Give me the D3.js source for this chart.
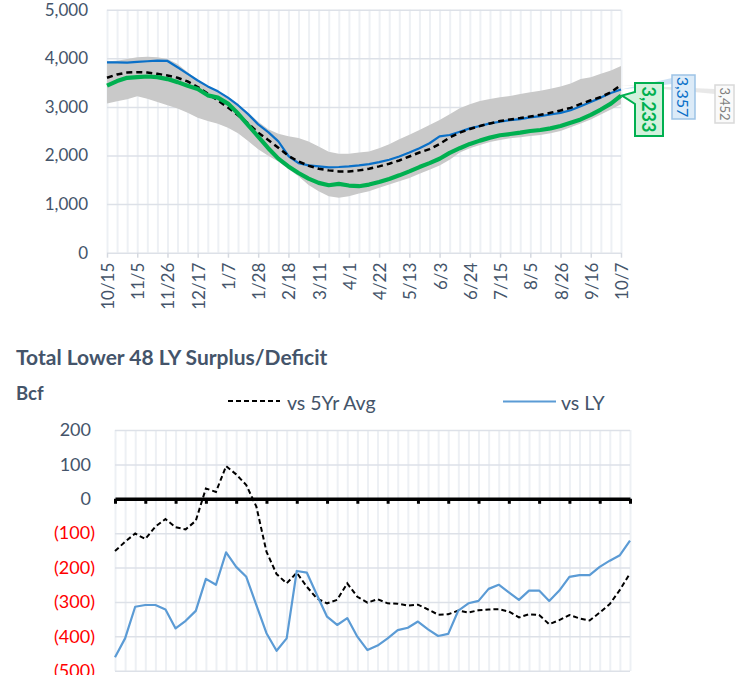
<!DOCTYPE html>
<html><head><meta charset="utf-8">
<script src="https://cdn.jsdelivr.net/npm/d3@7"></script>
<style>
body{margin:0;background:#fff}
svg{display:block;font-family:Lato,"Open Sans",sans-serif}
</style>
</head><body>
<svg id="c" width="744" height="675"></svg>
<script>
const weeks = ["10/15","10/22","10/29","11/5","11/12","11/19","11/26","12/3","12/10","12/17","12/24","12/31",
  "1/7","1/14","1/21","1/28","2/4","2/11","2/18","2/25","3/4","3/11","3/18","3/25","4/1","4/8","4/15","4/22",
  "4/29","5/6","5/13","5/20","5/27","6/3","6/10","6/17","6/24","7/1","7/8","7/15","7/22","7/29","8/5","8/12",
  "8/19","8/26","9/2","9/9","9/16","9/23","9/30","10/7"];
const tickLabels = ["10/15","11/5","11/26","12/17","1/7","1/28","2/18","3/11","4/1","4/22","5/13","6/3","6/24","7/15","8/5","8/26","9/16","10/7"];

const storageMax = [3939,3952,3986,4020,4034,4020,3986,3884,3714,3558,3429,3327,3204,3054,2878,2694,2538,2450,2395,2361,
  2286,2184,2075,2034,2034,2062,2082,2150,2232,2334,2429,2524,2626,2728,2850,2973,3054,3122,3163,3197,3224,3265,3299,
  3333,3374,3422,3483,3572,3612,3680,3748,3840];
const storageMin = [3068,3116,3157,3218,3170,3102,3034,2966,2878,2776,2708,2654,2572,2456,2300,2130,1994,1878,1722,1572,
  1395,1266,1164,1130,1164,1218,1266,1334,1402,1470,1538,1626,1708,1796,1915,2062,2150,2218,2280,2320,2354,2375,2402,
  2422,2456,2504,2579,2660,2742,2844,2946,3054];
const storage5YrAvg = [3599,3667,3708,3714,3708,3680,3646,3599,3524,3408,3272,3136,2987,2830,2660,2470,2320,2160,1993,1876,
  1790,1727,1694,1673,1673,1694,1727,1776,1830,1898,1980,2062,2130,2238,2370,2470,2545,2606,2660,2708,2742,2770,2803,
  2837,2878,2926,2980,3062,3136,3204,3300,3452];
const storageLastYear = [3918,3918,3912,3925,3939,3952,3945,3816,3680,3544,3422,3320,3191,3034,2851,2640,2480,2290,1990,1844,
  1797,1776,1756,1763,1776,1797,1824,1865,1912,1980,2062,2150,2252,2395,2422,2490,2558,2606,2660,2694,2728,2749,2783,
  2810,2844,2878,2932,3014,3102,3191,3286,3357];
const storageCurrent = [3436,3531,3599,3612,3626,3612,3572,3510,3436,3368,3238,3191,3068,2864,2626,2388,2150,1936,1776,1640,
  1524,1436,1388,1416,1382,1368,1402,1456,1518,1592,1674,1762,1844,1932,2055,2150,2238,2306,2368,2416,2442,2470,2504,
  2524,2558,2606,2674,2742,2837,2946,3068,3233];

const vs5YrAvg = [-152,-125,-101,-117,-81,-59,-83,-89,-64,30,20,95,71,40,-23,-154,-219,-246,-215,-256,-290,-304,-294,-246,
  -285,-302,-292,-304,-305,-311,-308,-322,-337,-336,-325,-331,-324,-322,-321,-328,-345,-336,-338,-365,-353,-338,-348,
  -354,-331,-306,-265,-217];
const vsLY = [-461,-406,-314,-309,-309,-322,-377,-355,-326,-233,-250,-156,-198,-227,-309,-391,-442,-406,-210,-215,-280,-343,
  -367,-347,-401,-440,-427,-406,-382,-375,-357,-380,-399,-393,-325,-304,-297,-262,-250,-272,-294,-267,-267,-297,-267,
  -227,-222,-222,-198,-180,-164,-122];

const topYTicks = [0,1000,2000,3000,4000,5000];
const bottomYTicks = [200,100,0,-100,-200,-300,-400,-500];
const title = "Total Lower 48 LY Surplus/Deficit";
const unitLabel = "Bcf";
const legendNames = ["vs 5Yr Avg","vs LY"];

const SLATE = "#44546A";
const svg = d3.select("#c");

/* ---------------- TOP CHART ---------------- */
const x = d3.scalePoint().domain(weeks).range([107, 621]);
const y = d3.scaleLinear().domain([0, 5000]).range([252.7, 9.7]);
const gTop = svg.append("g");

gTop.append("g").attr("transform","translate(0,9.7)")
  .call(d3.axisBottom(x).tickSize(243).tickFormat("").tickSizeOuter(0))
  .call(g=>g.select(".domain").remove())
  .call(g=>g.selectAll("line").attr("stroke","#edf0f4").attr("stroke-width",2));
gTop.append("g").attr("transform","translate(107,0)")
  .call(d3.axisLeft(y).tickValues(topYTicks).tickSize(-514).tickFormat(""))
  .call(g=>g.select(".domain").remove())
  .call(g=>g.selectAll("line").attr("stroke","#dde1e8").attr("stroke-width",1.5));
gTop.append("g").attr("transform","translate(88,0)")
  .call(d3.axisLeft(y).tickValues(topYTicks).tickSize(0).tickPadding(0).tickFormat(d3.format(",")))
  .call(g=>g.select(".domain").remove())
  .call(g=>g.selectAll("text").attr("fill",SLATE).attr("font-size",17).attr("font-family","Lato"));
gTop.append("g").attr("transform","translate(0,252.7)")
  .call(d3.axisBottom(x).tickValues(tickLabels).tickSize(5).tickSizeOuter(0))
  .call(g=>g.select(".domain").remove())
  .call(g=>g.selectAll("line").attr("stroke","#d5d9e0").attr("stroke-width",1.5))
  .call(g=>g.selectAll("text").attr("fill",SLATE).attr("font-size",17).attr("font-family","Lato")
     .attr("text-anchor","end").attr("dy",null).attr("y",0)
     .attr("dominant-baseline","central")
     .attr("transform","translate(0,10) rotate(-90)"));

const area = d3.area().x((d,i)=>x(weeks[i])).y0((d,i)=>y(storageMin[i])).y1(d=>y(d));
gTop.append("path").datum(storageMax).attr("d",area).attr("fill","#c9c9c9");

const line = d3.line().x((d,i)=>x(weeks[i])).y(d=>y(d));
gTop.append("path").datum(storageLastYear).attr("d",line).attr("fill","none")
  .attr("stroke","#0A70C8").attr("stroke-width",2.2).attr("stroke-linejoin","round");
gTop.append("path").datum(storage5YrAvg).attr("d",line).attr("fill","none")
  .attr("stroke","#000").attr("stroke-width",2.5).attr("stroke-dasharray","6,4");
gTop.append("path").datum(storageCurrent).attr("d",line).attr("fill","none")
  .attr("stroke","#00B050").attr("stroke-width",4.2).attr("stroke-linejoin","round");

const lastX = x(weeks[weeks.length-1]);
const fmt = d3.format(",");
const yAvgEnd = y(storage5YrAvg[51]), yLyEnd = y(storageLastYear[51]), yCurEnd = y(storageCurrent[51]);
// gray (5yr avg) callout
gTop.append("path").attr("d",`M${lastX},${yAvgEnd} L715,89 L715,94 Z`).attr("fill","#dedede").attr("opacity",0.7);
gTop.append("rect").attr("x",715).attr("y",85).attr("width",19).attr("height",38)
  .attr("fill","#fafafa").attr("stroke","#d9d9d9").attr("stroke-width",1.5);
gTop.append("text").attr("transform","translate(724.5,104) rotate(90)").attr("text-anchor","middle")
  .attr("dominant-baseline","central").attr("font-size",13).attr("fill","#7f7f7f").text(fmt(storage5YrAvg[51]));
// blue (LY) callout
gTop.append("path").attr("d",`M${lastX},${yLyEnd} L672,78 L672,84 Z`).attr("fill","#bcd7f0").attr("opacity",0.75);
gTop.append("rect").attr("x",672).attr("y",75).attr("width",23).attr("height",44)
  .attr("fill","#dcebf8").attr("stroke","#9dc3e6").attr("stroke-width",1.5);
gTop.append("text").attr("transform","translate(683.5,97) rotate(90)").attr("text-anchor","middle")
  .attr("dominant-baseline","central").attr("font-size",16).attr("fill","#0A70C8").text(fmt(storageLastYear[51]));
// green (current) callout
gTop.append("path").attr("d",`M635,83 H663 V136 H635 V104 L${lastX+1},${yCurEnd} L635,92 Z`)
  .attr("fill","#d3f1dd").attr("stroke","#00B050").attr("stroke-width",2);
gTop.append("text").attr("transform","translate(649,109.5) rotate(90)").attr("text-anchor","middle")
  .attr("dominant-baseline","central").attr("font-size",18).attr("font-weight","bold").attr("fill","#00B050")
  .text(fmt(storageCurrent[51]));

/* ---------------- BOTTOM CHART ---------------- */
const x2 = d3.scalePoint().domain(weeks).range([115, 630]);
const y2 = d3.scaleLinear().domain([-500, 200]).range([670.7, 430]);
const gBot = svg.append("g");

gBot.append("text").attr("x",16).attr("y",365).attr("font-size",21).attr("font-weight","bold")
  .attr("fill",SLATE).text(title);
gBot.append("text").attr("x",16).attr("y",400).attr("font-size",18.5).attr("font-weight","bold")
  .attr("fill",SLATE).text(unitLabel);

gBot.append("line").attr("x1",228).attr("x2",280).attr("y1",401).attr("y2",401)
  .attr("stroke","#000").attr("stroke-width",2).attr("stroke-dasharray","5,3");
gBot.append("text").attr("x",287).attr("y",402).attr("dominant-baseline","central").attr("font-size",19.5)
  .attr("fill",SLATE).text(legendNames[0]);
gBot.append("line").attr("x1",503).attr("x2",556).attr("y1",401.5).attr("y2",401.5)
  .attr("stroke","#5B9BD5").attr("stroke-width",2);
gBot.append("text").attr("x",561).attr("y",402).attr("dominant-baseline","central").attr("font-size",19.5)
  .attr("fill",SLATE).text(legendNames[1]);

gBot.append("g").attr("transform","translate(0,430)")
  .call(d3.axisBottom(x2).tickSize(241).tickFormat("").tickSizeOuter(0))
  .call(g=>g.select(".domain").remove())
  .call(g=>g.selectAll("line").attr("stroke","#edf0f4").attr("stroke-width",2));
gBot.append("g").attr("transform","translate(115,0)")
  .call(d3.axisLeft(y2).tickValues(bottomYTicks).tickSize(-515).tickFormat(""))
  .call(g=>g.select(".domain").remove())
  .call(g=>g.selectAll("line").attr("stroke","#dde1e8").attr("stroke-width",1.5));
gBot.append("g").attr("transform","translate(95,0)")
  .call(d3.axisLeft(y2).tickValues(bottomYTicks).tickSize(0).tickPadding(0)
     .tickFormat(d=> d<0 ? `(${fmt(-d)})` : fmt(d)))
  .call(g=>g.select(".domain").remove())
  .call(g=>g.selectAll("text").attr("font-size",18).attr("font-family","Lato")
     .attr("fill",d=> d<0 ? "#FF0000" : SLATE)
     .attr("x",d=> d<0 ? 0 : -4));

gBot.append("g").attr("transform",`translate(0,${y2(0)})`)
  .call(d3.axisBottom(x2).tickValues(tickLabels).tickSize(5).tickSizeOuter(0).tickFormat(""))
  .call(g=>g.select(".domain").attr("stroke","#000").attr("stroke-width",3.5))
  .call(g=>g.selectAll(".tick line").attr("stroke","#000").attr("stroke-width",3));

const line2 = d3.line().x((d,i)=>x2(weeks[i])).y(d=>y2(d));
gBot.append("path").datum(vs5YrAvg).attr("d",line2).attr("fill","none")
  .attr("stroke","#000").attr("stroke-width",2).attr("stroke-dasharray","5,3");
gBot.append("path").datum(vsLY).attr("d",line2).attr("fill","none")
  .attr("stroke","#5B9BD5").attr("stroke-width",2.2).attr("stroke-linejoin","round");
</script>
</body></html>
